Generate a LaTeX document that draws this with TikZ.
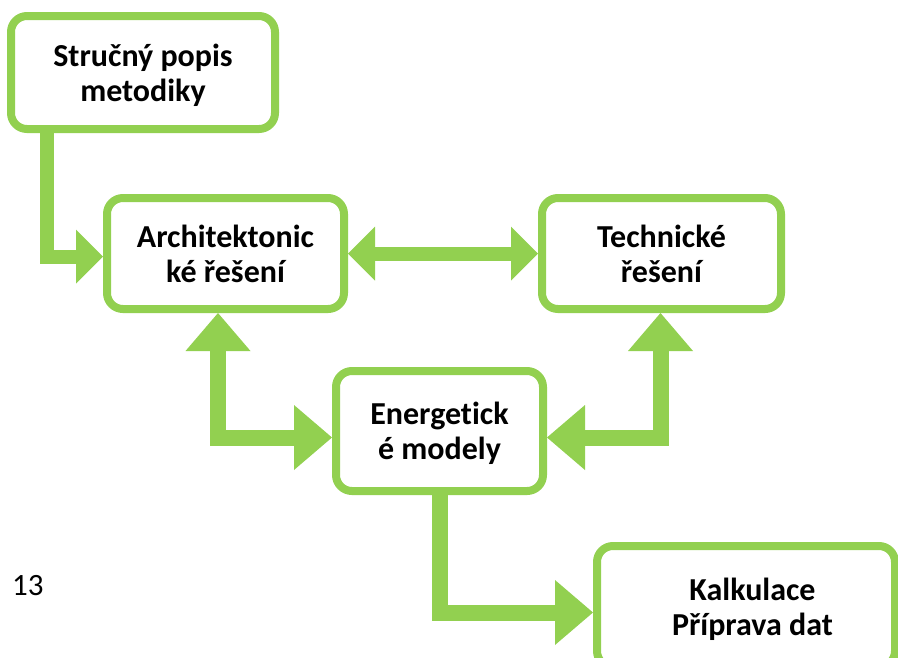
\documentclass[tikz,border=0pt]{standalone}
\usepackage{fontspec}
\setmainfont{Carlito}[Ligatures=NoCommon]
\usetikzlibrary{arrows.meta}
\definecolor{boxgreen}{HTML}{92D050}
\newcommand\lnstrut{\vrule width 0pt height 28.5pt depth 6.5pt\relax}
\newcommand\twolines[2]{\vbox{\lineskiplimit=-30pt\baselineskip=35pt\lineskip=0pt
  \halign{\hfil##\hfil\cr\lnstrut#1\cr\lnstrut#2\cr}}}
\tikzset{
  SH/.tip={Triangle[length=27pt 0 0,width=54pt 0 0,line width=0pt 0 0]},
  BH/.tip={Triangle[length=38pt 0 0,width=65pt 0 0,line width=0pt 0 0]},
}
\begin{document}
\begin{tikzpicture}[x=1pt,y=-1pt,
  box/.style={draw=boxgreen, line width=8pt, rounded corners=16pt, fill=white,
    inner sep=0pt, font=\bfseries\fontsize{32}{35}\selectfont},
  smallarr/.style={draw=boxgreen, line width=14pt, line join=miter},
  bigarr/.style={draw=boxgreen, line width=16pt, line join=miter},
  pagenum/.style={anchor=base west, inner sep=0pt, font=\fontsize{31}{36}\selectfont},
]
\useasboundingbox (0,0) rectangle (898,657);
\clip (0,0) rectangle (898,657);

\node[box, minimum width=264pt, minimum height=113pt] (B1) at (143,72.5) {\twolines{Stručný popis}{metodiky}};
\node[box, minimum width=237pt, minimum height=111pt] (B2) at (225.5,253.5) {\twolines{Architektonic}{ké řešení}};
\node[box, minimum width=239pt, minimum height=111pt] (B3) at (661.5,253.5) {\twolines{Technické}{řešení}};
\node[box, minimum width=207pt, minimum height=120pt] (B4) at (439.5,431) {\twolines{Energetick}{é modely}};
\node[box, minimum width=298pt, minimum height=121pt] (B5) at (746,606.5) {\twolines{\hspace*{13pt}Kalkulace}{\hspace*{13pt}Příprava dat}};

\node[pagenum] (pg) at (12,595) {13};

\draw[smallarr, -SH] (B1.south -| 46.5,0) |- ([yshift=-3pt]B2.west);
\draw[smallarr, SH-SH] (B2.east) -- (B3.west);
\draw[bigarr, BH-BH] (B2.south -| 218,0) |- ([yshift=-6.5pt]B4.west);
\draw[bigarr, BH-BH] (B3.south -| 660.5,0) |- ([yshift=-6.5pt]B4.east);
\draw[bigarr, -BH] (B4.south) |- ([yshift=-6pt]B5.west);
\end{tikzpicture}
\end{document}
